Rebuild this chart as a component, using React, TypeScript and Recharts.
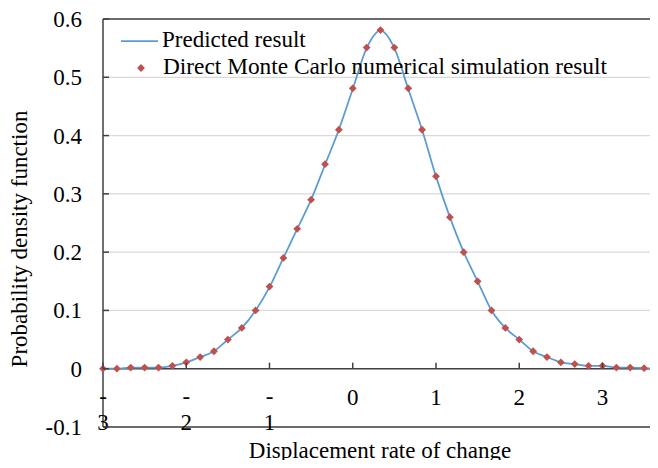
import React from 'react';
import { ComposedChart, Line, XAxis, YAxis, CartesianGrid, ReferenceLine, Legend } from 'recharts';

const xValues = [
  -3, -2.833, -2.667, -2.5, -2.333, -2.167, -2, -1.833, -1.667, -1.5, -1.333,
  -1.167, -1, -0.833, -0.667, -0.5, -0.333, -0.167, 0, 0.167, 0.333, 0.5,
  0.667, 0.833, 1, 1.167, 1.333, 1.5, 1.667, 1.833, 2, 2.167, 2.333, 2.5,
  2.667, 2.833, 3, 3.167, 3.333, 3.5, 3.667,
];

const predicted = [
  0, 0, 0.002, 0.002, 0.002, 0.005, 0.011, 0.02, 0.03, 0.05, 0.07,
  0.1, 0.14, 0.19, 0.24, 0.29, 0.35, 0.41, 0.48, 0.55, 0.58, 0.55,
  0.48, 0.41, 0.33, 0.26, 0.2, 0.15, 0.1, 0.07, 0.05, 0.03, 0.02, 0.011,
  0.008, 0.005, 0.005, 0.002, 0.002, 0.001, 0,
];

const simulated = [
  0, 0, 0.002, 0.002, 0.002, 0.005, 0.011, 0.02, 0.03, 0.05, 0.07,
  0.1, 0.141, 0.19, 0.24, 0.29, 0.351, 0.41, 0.481, 0.551, 0.581, 0.551,
  0.481, 0.41, 0.33, 0.26, 0.2, 0.15, 0.1, 0.07, 0.05, 0.03, 0.02, 0.011,
  0.008, 0.005, 0.005, 0.002, 0.002, 0.001, 0,
];

const xTicks = [-3, -2, -1, 0, 1, 2, 3];
const yTicks = [-0.1, 0, 0.1, 0.2, 0.3, 0.4, 0.5, 0.6];

const seriesNames = ['Predicted result', 'Direct Monte Carlo numerical simulation result'];
const titleText = '(a) Displacement';
const xAxisTitle = 'Displacement rate of change';
const yAxisTitle = 'Probability density function';

const data = xValues.map((x, i) => ({ x, predicted: predicted[i], simulated: simulated[i] }));

const FONT = "'Liberation Serif', 'Times New Roman', serif";
const FS = 23;
const AXIS = '#404040';
const BLUE = '#5B9BD5';
const RED = '#C0504D';
const ZERO_OFFSET = 58.3; // distance between y=-0.1 and y=0 lines

const YTick = (props: any) => {
  const { x, y, payload } = props;
  return (
    <g>
      <line x1={x} x2={x + 6} y1={y} y2={y} stroke={AXIS} strokeWidth={1.5} />
      <text x={x - 21} y={y} dy="0.35em" textAnchor="end" fontFamily={FONT} fontSize={FS} fill="#000">
        {String(payload.value)}
      </text>
    </g>
  );
};

const XTick = (props: any) => {
  const { x, y, payload } = props;
  const v = payload.value as number;
  const zy = y - ZERO_OFFSET;
  const neg = v < 0;
  return (
    <g>
      <line x1={x} x2={x} y1={zy} y2={zy - 6} stroke={AXIS} strokeWidth={1.5} />
      {neg ? (
        <g>
          <text x={x} y={y - 23} textAnchor="middle" fontFamily={FONT} fontSize={FS} fill="#000">-</text>
          <text x={x} y={y + 3} textAnchor="middle" fontFamily={FONT} fontSize={FS} fill="#000">
            {String(Math.abs(v))}
          </text>
        </g>
      ) : (
        <text x={x} y={y - 22} textAnchor="middle" fontFamily={FONT} fontSize={FS} fill="#000">
          {String(v)}
        </text>
      )}
    </g>
  );
};

const XLabel = () => (
  <text x={380} y={458} textAnchor="middle" fontFamily={FONT} fontSize={FS} fill="#000">
    {xAxisTitle}
  </text>
);

const YLabel = () => (
  <text transform="translate(27, 239) rotate(-90)" textAnchor="middle" fontFamily={FONT} fontSize={FS} fill="#000">
    {yAxisTitle}
  </text>
);

const Diamond = (props: any) => {
  const { cx, cy, index } = props;
  if (cx == null || cy == null) return <g key={`d-${index}`} />;
  const r = 3.9;
  return (
    <path
      key={`d-${index}`}
      d={`M${cx},${cy - r}L${cx + r},${cy}L${cx},${cy + r}L${cx - r},${cy}Z`}
      fill={RED}
      stroke="none"
    />
  );
};

const LegendBox = () => (
  <svg width={540} height={60} style={{ display: 'block', overflow: 'visible' }}>
    <line x1={6} x2={43} y1={15} y2={15} stroke={BLUE} strokeWidth={1.75} />
    <text x={47} y={21} fontFamily={FONT} fontSize={FS} fill="#000">{seriesNames[0]}</text>
    <path d="M26,38.1L29.9,42L26,45.9L22.1,42Z" fill={RED} />
    <text x={48} y={48} fontFamily={FONT} fontSize={FS} fill="#000" textLength={444} lengthAdjust="spacingAndGlyphs">{seriesNames[1]}</text>
  </svg>
);

export default function App() {
  return (
    <div style={{ margin: -8, width: 658, height: 468, position: 'relative', background: '#fff' }}>
      <svg width={658} height={20} style={{ position: 'absolute', left: 0, top: 0 }}>
        <text x={247} y={0.5} fontFamily={FONT} fontSize={FS} fill="#000">{titleText}</text>
      </svg>
      <ComposedChart width={658} height={468} data={data} margin={{ top: 19, right: 0, bottom: 0, left: 0 }}>
        <CartesianGrid vertical={false} stroke="#D9D9D9" strokeWidth={1.2} />
        <XAxis
          type="number"
          dataKey="x"
          domain={[-3, 3.667]}
          ticks={xTicks}
          interval={0}
          height={41}
          tickLine={false}
          tickSize={0}
          tickMargin={0}
          axisLine={{ stroke: AXIS, strokeWidth: 1.5 }}
          tick={<XTick />}
          label={<XLabel />}
        />
        <YAxis
          type="number"
          domain={[-0.1, 0.6]}
          ticks={yTicks}
          interval={0}
          width={103}
          tickLine={false}
          tickSize={0}
          tickMargin={0}
          axisLine={{ stroke: AXIS, strokeWidth: 1.5 }}
          tick={<YTick />}
          label={<YLabel />}
        />
        <ReferenceLine y={0} stroke={AXIS} strokeWidth={1.5} />
        <ReferenceLine y={0.6} stroke={AXIS} strokeWidth={1.5} />
        <Legend
          layout="vertical"
          align="center"
          verticalAlign="middle"
          wrapperStyle={{ position: 'absolute', left: 115, top: 26, width: 540, height: 60 }}
          content={() => <LegendBox />}
        />
        <Line
          type="monotone"
          dataKey="predicted"
          stroke={BLUE}
          strokeWidth={1.75}
          dot={false}
          activeDot={false}
          isAnimationActive={false}
        />
        <Line
          type="monotone"
          dataKey="simulated"
          stroke="none"
          dot={Diamond}
          activeDot={false}
          isAnimationActive={false}
          legendType="diamond"
        />
      </ComposedChart>
    </div>
  );
}
